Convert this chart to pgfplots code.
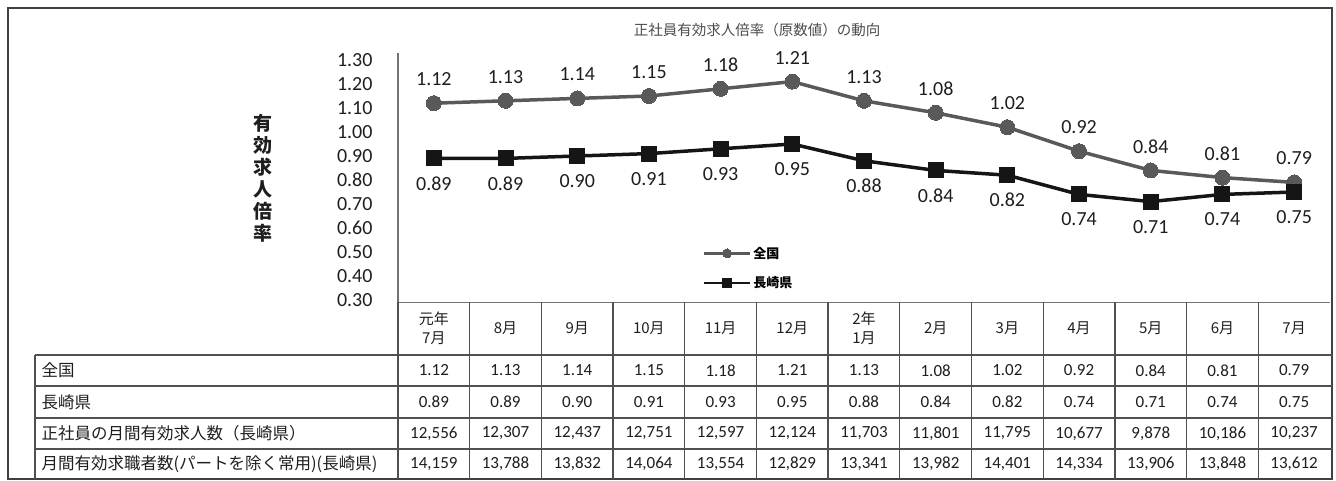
\documentclass[border=0pt]{standalone}
\usepackage{fontspec}
\setmainfont{Carlito}
\newfontfamily\cjk{Noto Sans CJK JP}
\usepackage{pgfplots}
\pgfplotsset{compat=1.18}
\usepackage{pgfplotstable}

\definecolor{zkc}{HTML}{595959}
\definecolor{ngc}{HTML}{151515}
\definecolor{tblc}{HTML}{505050}
\definecolor{txtc}{HTML}{1E1E1E}

\pgfplotstableread{
x zk ng
0 1.12 0.89
1 1.13 0.89
2 1.14 0.90
3 1.15 0.91
4 1.18 0.93
5 1.21 0.95
6 1.13 0.88
7 1.08 0.84
8 1.02 0.82
9 0.92 0.74
10 0.84 0.71
11 0.81 0.74
12 0.79 0.75
}\rates

\begin{document}
\begin{tikzpicture}
\path[use as bounding box] (0pt,0pt) rectangle (1336pt,-480pt);
\draw[line width=1.3pt, color=black!75] (8pt,-8pt) rectangle (1332pt,-479pt);

% title and y label
\node[font=\cjk\fontsize{14.5}{16}\selectfont, text=black!70] at (757pt,-30pt) {正社員有効求人倍率（原数値）の動向};
\node[font=\cjk\bfseries\fontsize{19}{22}\selectfont, align=center, text=txtc] at (263pt,-178pt) {有\\効\\求\\人\\倍\\率};

\begin{axis}[
  at={(398pt,-302.4pt)}, anchor=south west,
  scale only axis, width=932pt, height=249.6pt,
  xmin=-0.5, xmax=12.5, ymin=0.29, ymax=1.33,
  clip=false,
  axis x line*=bottom, axis y line*=left,
  axis line style={line width=1.2pt, color=black!55},
  xtick=\empty,
  ytick={0.3,0.4,0.5,0.6,0.7,0.8,0.9,1.0,1.1,1.2,1.3},
  major tick length=0pt,
  /pgf/number format/assume math mode=true,
  yticklabel style={font=\fontsize{20}{20}\selectfont, text=txtc, anchor=east, xshift=-22pt,
    /pgf/number format/.cd, fixed, fixed zerofill, precision=2},
  nodes near coords={\pgfmathprintnumber[fixed,fixed zerofill,precision=2]{\pgfplotspointmeta}},
  legend style={at={(axis cs:3.75,0.53)}, anchor=north west, draw=none, fill=none,
    font=\cjk\bfseries\fontsize{13}{15}\selectfont, row sep=13pt, inner sep=0pt},
  legend cell align=left,
  legend image code/.code={\draw[#1, mark size=4.5pt, mark repeat=2, mark phase=2, line width=2.5pt]
     plot coordinates {(0pt,0pt) (23pt,0pt) (46pt,0pt)};},
]
\addplot[color=zkc, line width=3.5pt, mark=*, mark size=7.5pt,
  mark options={fill=zkc, draw=zkc, line width=0pt},
  every node near coord/.style={anchor=center, yshift=24pt, font=\fontsize{20}{20}\selectfont, text=txtc}]
  table[x=x, y=zk]{\rates};
\addlegendentry{全国}
\addplot[color=ngc, line width=3.5pt, mark=square*, mark size=7.5pt,
  mark options={fill=ngc, draw=ngc, line width=0pt},
  every node near coord/.style={anchor=center, yshift=-25pt, font=\fontsize{20}{20}\selectfont, text=txtc}]
  table[x=x, y=ng]{\rates};
\addlegendentry{長崎県}
\end{axis}

% table grid
\tikzset{tbl/.style={line width=1.3pt, color=tblc}}
\foreach \i in {1,...,12} {
  \draw[tbl] ({(398+71.69*\i)*1pt},-302pt) -- ({(398+71.69*\i)*1pt},-479pt);
}
\draw[tbl] (398pt,-302pt) -- (398pt,-479pt);
\draw[tbl] (35pt,-355pt) -- (35pt,-479pt);
\foreach \y in {355,386,418,449} {
  \draw[tbl] (35pt,{-\y*1pt}) -- (1332pt,{-\y*1pt});
}

% header labels
\foreach \lab [count=\i from 0] in {{元年\\7月},8月,9月,10月,11月,12月,{2年\\1月},2月,3月,4月,5月,6月,7月} {
  \node[font=\cjk\fontsize{15}{19}\selectfont, align=center, text=txtc] at ({(398+71.69*(\i+0.5))*1pt},-328pt) {\lab};
}

% row labels
\node[anchor=west, font=\cjk\fontsize{16.5}{18}\selectfont, text=txtc] at (38pt,-370.5pt) {全国};
\node[anchor=west, font=\cjk\fontsize{16.5}{18}\selectfont, text=txtc] at (38pt,-402pt) {長崎県};
\node[anchor=west, font=\cjk\fontsize{16.5}{18}\selectfont, text=txtc] at (38pt,-433.5pt) {正社員の月間有効求人数（長崎県）};
\node[anchor=west, font=\cjk\fontsize{16.5}{18}\selectfont, text=txtc] at (38pt,-464pt) {月間有効求職者数(パートを除く常用)(長崎県)};

% row values
\foreach \v [count=\i from 0] in {1.12,1.13,1.14,1.15,1.18,1.21,1.13,1.08,1.02,0.92,0.84,0.81,0.79} {
  \node[font=\fontsize{17}{18}\selectfont, text=txtc] at ({(398+71.69*(\i+0.5))*1pt},-370.5pt) {\v};
}
\foreach \v [count=\i from 0] in {0.89,0.89,0.90,0.91,0.93,0.95,0.88,0.84,0.82,0.74,0.71,0.74,0.75} {
  \node[font=\fontsize{17}{18}\selectfont, text=txtc] at ({(398+71.69*(\i+0.5))*1pt},-402pt) {\v};
}
\foreach \v [count=\i from 0] in {{12,556},{12,307},{12,437},{12,751},{12,597},{12,124},{11,703},{11,801},{11,795},{10,677},{9,878},{10,186},{10,237}} {
  \node[font=\fontsize{17}{18}\selectfont, text=txtc] at ({(398+71.69*(\i+0.5))*1pt},-433.5pt) {\v};
}
\foreach \v [count=\i from 0] in {{14,159},{13,788},{13,832},{14,064},{13,554},{12,829},{13,341},{13,982},{14,401},{14,334},{13,906},{13,848},{13,612}} {
  \node[font=\fontsize{17}{18}\selectfont, text=txtc] at ({(398+71.69*(\i+0.5))*1pt},-464pt) {\v};
}
\end{tikzpicture}
\end{document}
